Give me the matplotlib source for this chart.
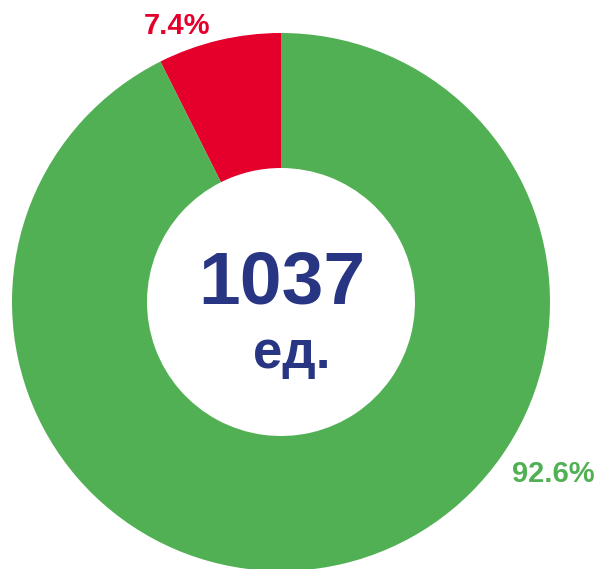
import matplotlib.pyplot as plt

# data
labels = ["7.4%", "92.6%"]
shares = [7.4, 92.6]
colors = ["#E4002B", "#52B054"]
total_value = "1037"
unit = "ед."

W, H = 599, 569
fig = plt.figure(figsize=(W / 100, H / 100), dpi=100)
ax = fig.add_axes([0, 0, 1, 1])

cx, cy, r = 281, H - 302, 269
ax.pie(shares, colors=colors, startangle=90, counterclock=True,
       radius=r, center=(cx, cy),
       wedgeprops=dict(width=135, edgecolor="none"))

ax.set_xlim(0, W)
ax.set_ylim(0, H)
ax.set_aspect("equal")
ax.axis("off")

font = "Liberation Sans"
ax.text(177, H - 26, labels[0], color=colors[0], fontsize=21, fontweight="bold",
        family=font, ha="center", va="center")
ax.text(553, H - 474, labels[1], color=colors[1], fontsize=21, fontweight="bold",
        family=font, ha="center", va="center")

navy = "#283583"
ax.text(282, H - 303, total_value, color=navy, fontsize=54, fontweight="bold",
        family=font, ha="center", va="baseline")
ax.text(292, H - 368, unit, color=navy, fontsize=38, fontweight="bold",
        family=font, ha="center", va="baseline")

fig.savefig("out.png", dpi=100)
